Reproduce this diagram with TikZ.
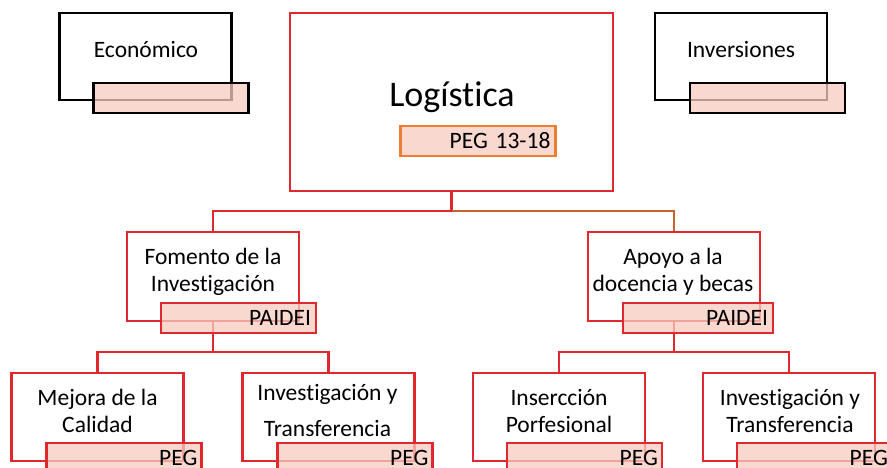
\documentclass[tikz,border=0pt]{standalone}
\usepackage{fontspec}
\setmainfont{Carlito}[Ligatures=NoCommon]
\usetikzlibrary{positioning,calc}

\definecolor{boxred}{RGB}{224,40,45}
\definecolor{linkbrown}{RGB}{200,100,40}
\definecolor{tagorange}{RGB}{237,125,49}
\definecolor{tagpink}{RGB}{247,203,191}

\begin{document}
\begin{tikzpicture}[
        x=1pt, y=-1pt,
        box/.style={
            draw=boxred,
            line width=2.2pt,
            fill=white,
            minimum width=172pt,
            minimum height=88pt,
            inner sep=0pt
        },
        boxK/.style={
            box,
            draw=black,
            minimum height=87pt
        },
        tag/.style={
            draw=boxred,
            line width=2.2pt,
            fill=tagpink,
            fill opacity=0.75,
            text opacity=1,
            text width=145pt,
            inner xsep=5pt,
            inner ysep=0pt,
            minimum height=30pt,
            align=right,
            font=\fontsize{23.5}{26.5}\selectfont
        },
        txt/.style={
            align=center,
            inner sep=0pt,
            font=\fontsize{23.5}{26.5}\selectfont
        },
        link/.style={draw=boxred, line width=2.2pt},
        linkO/.style={draw=linkbrown, line width=2.2pt}
    ]
        \useasboundingbox (0,0) rectangle (887,468);

        % white boxes
        \node[boxK] (eco) at (145.5,56.5) {};
        \node[boxK] (inv) at (741,56.5) {};
        \node[box, minimum width=323pt, minimum height=178pt] (log) at (451.5,102) {};
        \node[box, minimum height=89pt] (fom) at (213,276.5) {};
        \node[box, minimum height=89pt] (apo) at (674,276.5) {};
        \node[box] (mej) at (97.5,417) {};
        \node[box] (invA) at (328.5,417) {};
        \node[box] (ins) at (559,417) {};
        \node[box] (invB) at (789,417) {};

        % texts
        \node[txt, anchor=base] (ecoT) at (146,58) {Económico};
        \node[txt, anchor=base] (invT) at (741,58) {Inversiones};
        \node[txt, anchor=base, font=\fontsize{36}{40}\selectfont] (logT) at (452,107) {Logística};
        \node[txt, anchor=base] (fomT) at (213,291) {Fomento de la\\Investigación};
        \node[txt, anchor=base] (apoT) at (673,291) {Apoyo a la\\docencia y becas};
        \node[txt, anchor=base] (mejT) at (97.5,432) {Mejora de la\\Calidad};
        \node[txt, anchor=base] (invAT) at (327.5,436) {Investigación y\\[9pt]Transferencia};
        \node[txt, anchor=base] (insT) at (559,432) {Insercción\\Porfesional};
        \node[txt, anchor=base] (invBT) at (790,432) {Investigación y\\Transferencia};

        % connectors
        \coordinate (bus0) at (451.5,211);
        \coordinate (bus1) at (213,352);
        \coordinate (bus2) at (674,352);
        \draw[link] (log.south) -- (bus0) -| (fom.north);
        \draw[linkO] (bus0) -| (apo.north);
        \draw[link] (fom.south) -- (bus1);
        \draw[link] (mej.north) |- (bus1) -| (invA.north);
        \draw[link] (apo.south) -- (bus2);
        \draw[link] (ins.north) |- (bus2) -| (invB.north);

        % pink tags
        \node[tag, draw=black, anchor=north west] (ecoTag) at ([xshift=34pt,yshift=19pt]eco.south west) {};
        \node[tag, draw=black, anchor=north west] (invTag) at ([xshift=35pt,yshift=19pt]inv.south west) {};
        \node[tag, draw=tagorange] (logTag) at (478,141) {PEG 13-18};
        \node[tag, anchor=north west] (fomTag) at ([xshift=34pt,yshift=20pt]fom.south west) {PAIDEI};
        \node[tag, anchor=north west, text width=140pt] (apoTag) at ([xshift=35pt,yshift=20pt]apo.south west) {PAIDEI};
        \node[tag, anchor=north west] (mejTag) at ([xshift=35pt,yshift=20pt]mej.south west) {};
        \node[tag, anchor=north west] (invATag) at ([xshift=35pt,yshift=20pt]invA.south west) {};
        \node[tag, anchor=north west] (insTag) at ([xshift=34pt,yshift=20pt]ins.south west) {};
        \node[tag, anchor=north west] (invBTag) at ([xshift=34pt,yshift=20pt]invB.south west) {};

        % tag texts cut by the lower edge
        \foreach \t in {mejTag,invATag,insTag,invBTag}
            \node[txt, anchor=base east] (\t T) at ([xshift=-5pt,yshift=-7.5pt]\t.east) {PEG};
    \end{tikzpicture}
\end{document}
